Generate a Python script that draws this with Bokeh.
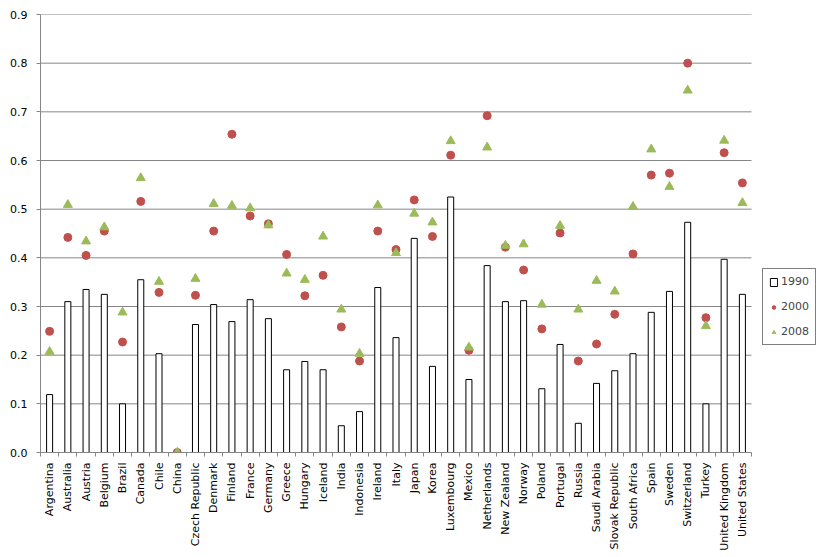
import math
from bokeh.plotting import figure
from bokeh.models import (ColumnDataSource, Range1d, FixedTicker, Legend, LegendItem,
                          NumeralTickFormatter)
from bokeh.embed import file_html
from bokeh.resources import INLINE

countries = ["Argentina", "Australia", "Austria", "Belgium", "Brazil", "Canada", "Chile", "China",
             "Czech Republic", "Denmark", "Finland", "France", "Germany", "Greece", "Hungary",
             "Iceland", "India", "Indonesia", "Ireland", "Italy", "Japan", "Korea", "Luxembourg",
             "Mexico", "Netherlands", "New Zealand", "Norway", "Poland", "Portugal", "Russia",
             "Saudi Arabia", "Slovak Republic", "South Africa", "Spain", "Sweden", "Switzerland",
             "Turkey", "United Kingdom", "United States"]

v1990 = [0.119, 0.310, 0.335, 0.325, 0.100, 0.355, 0.203, 0.0,
         0.263, 0.304, 0.269, 0.314, 0.275, 0.170, 0.187,
         0.170, 0.055, 0.084, 0.339, 0.236, 0.440, 0.177, 0.525,
         0.150, 0.384, 0.310, 0.312, 0.131, 0.222, 0.060,
         0.142, 0.168, 0.203, 0.288, 0.331, 0.473,
         0.100, 0.397, 0.325]

v2000 = [0.249, 0.442, 0.405, 0.455, 0.227, 0.516, 0.329, 0.0,
         0.323, 0.455, 0.654, 0.486, 0.470, 0.407, 0.322,
         0.364, 0.258, 0.188, 0.455, 0.417, 0.519, 0.444, 0.611,
         0.210, 0.692, 0.422, 0.375, 0.254, 0.451, 0.188,
         0.223, 0.284, 0.408, 0.570, 0.574, 0.800,
         0.277, 0.616, 0.554]

v2008 = [0.207, 0.509, 0.434, 0.463, 0.288, 0.564, 0.351, 0.0,
         0.357, 0.511, 0.507, 0.502, 0.467, 0.368, 0.355,
         0.444, 0.294, 0.203, 0.508, 0.410, 0.491, 0.473, 0.640,
         0.216, 0.627, 0.425, 0.428, 0.304, 0.466, 0.294,
         0.353, 0.331, 0.505, 0.623, 0.546, 0.744,
         0.260, 0.641, 0.513]

y_ticks = [0.0, 0.1, 0.2, 0.3, 0.4, 0.5, 0.6, 0.7, 0.8, 0.9]
series_labels = ["1990", "2000", "2008"]

n = len(countries)
centers = [i + 0.5 for i in range(n)]
source = ColumnDataSource(dict(x=centers, country=countries, v1990=v1990, v2000=v2000, v2008=v2008))

GRAY = "#868686"
FONT = "DejaVu Sans"

W, H = 823, 557
LEFT, TOP, BOTTOM = 40, 14, 105
PLOT_W = 711                       # pixel width of the category area
FRAME_W = W - LEFT                 # frame extends under the legend area
x_end = n * FRAME_W / PLOT_W

p = figure(width=W, height=H, output_backend="svg", toolbar_location=None,
           x_range=Range1d(0, x_end), y_range=Range1d(0, y_ticks[-1]),
           min_border_left=LEFT, min_border_right=0, min_border_top=TOP, min_border_bottom=BOTTOM)
p.outline_line_color = None
p.background_fill_color = "white"
p.border_fill_color = "white"

# horizontal gridlines limited to the category area
grid_src = ColumnDataSource(dict(x0=[0] * len(y_ticks), x1=[n] * len(y_ticks), y=y_ticks))
p.segment(x0="x0", x1="x1", y0="y", y1="y", source=grid_src, line_color=GRAY,
          line_width=1, level="underlay")

rb = p.vbar(x="x", top="v1990", width=0.33, source=source, fill_color="white",
            line_color="black", line_width=1)
rc = p.scatter(x="x", y="v2000", source=source, marker="circle", size=8,
               fill_color="#C0504D", line_color="#C0504D")
rt = p.scatter(x="x", y="v2008", source=source, marker="triangle", size=9,
               fill_color="#9BBB59", line_color="#9BBB59")

# x axis
xa = p.xaxis[0]
xa.bounds = (0, n)
xa.ticker = FixedTicker(ticks=centers, minor_ticks=list(range(n + 1)))
xa.major_label_overrides = {c: name for c, name in zip(centers, countries)}
xa.major_label_orientation = math.pi / 2
xa.major_tick_out = 0
xa.major_tick_in = 0
xa.minor_tick_out = 4
xa.minor_tick_in = 0
xa.minor_tick_line_color = GRAY
xa.axis_line_color = GRAY
xa.major_label_text_font = FONT
xa.major_label_text_font_size = "11px"
xa.major_label_text_color = "black"
xa.major_label_standoff = 6

# y axis
ya = p.yaxis[0]
ya.ticker = FixedTicker(ticks=y_ticks)
ya.formatter = NumeralTickFormatter(format="0.0")
ya.major_tick_out = 4
ya.major_tick_in = 0
ya.minor_tick_line_color = None
ya.major_tick_line_color = GRAY
ya.axis_line_color = GRAY
ya.major_label_text_font = FONT
ya.major_label_text_font_size = "11px"
ya.major_label_text_color = "black"
ya.major_label_standoff = 9

p.xgrid.visible = False
p.ygrid.visible = False

legend = Legend(items=[LegendItem(label=series_labels[0], renderers=[rb]),
                       LegendItem(label=series_labels[1], renderers=[rc]),
                       LegendItem(label=series_labels[2], renderers=[rt])],
                location=(722, 107))
legend.border_line_color = "black"
legend.border_line_width = 1
legend.background_fill_color = "white"
legend.background_fill_alpha = 1
legend.label_text_font = FONT
legend.label_text_font_size = "11px"
legend.glyph_width = 9
legend.glyph_height = 10
legend.label_height = 12
legend.label_width = 10
legend.spacing = 12
legend.padding = 6
legend.label_standoff = 3
legend.margin = 0
p.add_layout(legend)

open("out.html", "w").write(file_html(p, INLINE))
